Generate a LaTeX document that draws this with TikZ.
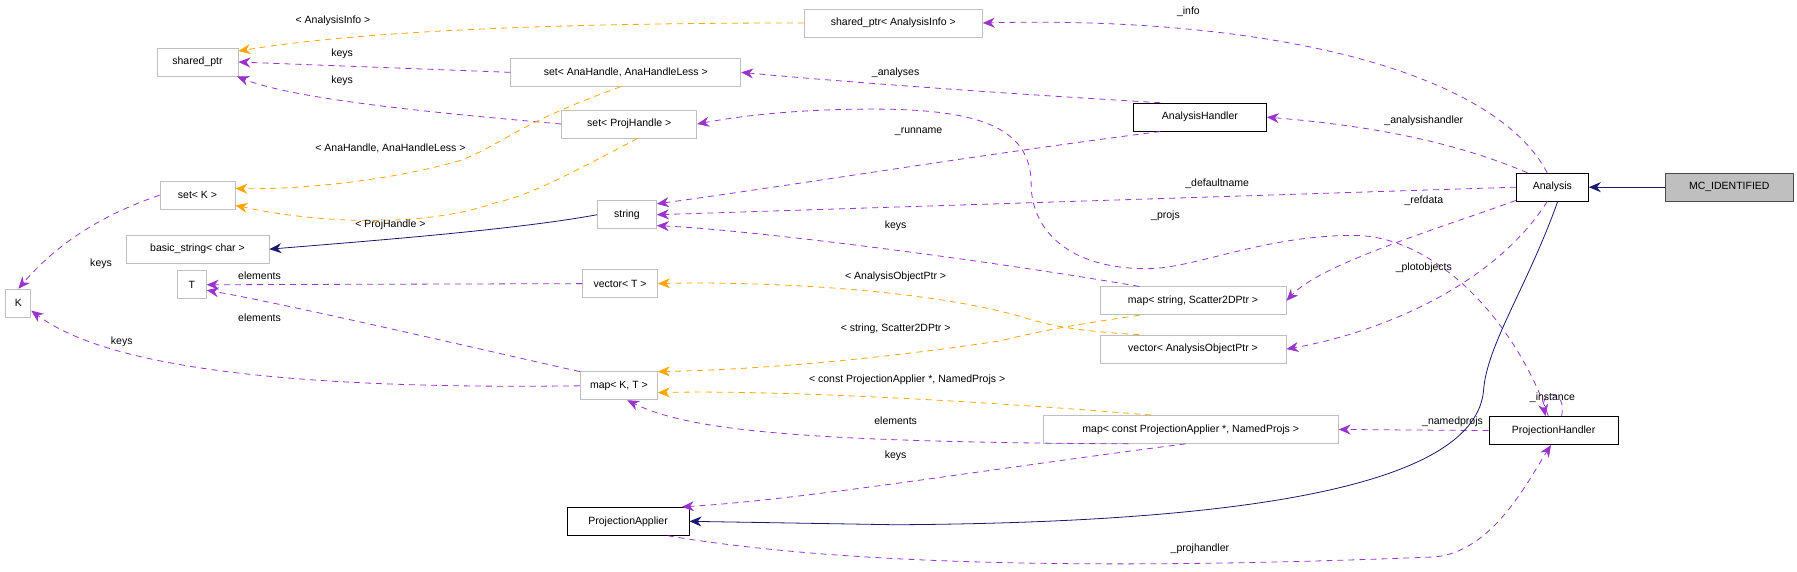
\documentclass[tikz,border=0pt]{standalone}
\usepackage{fontspec}
\setmainfont{Liberation Sans}
\usetikzlibrary{arrows.meta}
\definecolor{refcol}{HTML}{9A32CD}
\definecolor{tplcol}{HTML}{FFA500}
\definecolor{inhcol}{HTML}{191970}
\begin{document}
\begin{tikzpicture}[x=1.148pt,y=-1.148pt,>={Stealth[length=12pt,width=10pt]},font=\fontsize{10.5}{12}\selectfont]
  \tikzstyle{cls}=[rectangle,draw=black!25,thick,fill=white,inner sep=0pt,minimum height=28pt]
  \tikzstyle{main cls}=[cls,draw=black]
  \tikzstyle{root cls}=[cls,draw=black!70,fill=black!25]
  \tikzstyle{ref}=[->,dash pattern=on 6pt off 5pt,refcol,thick]
  \tikzstyle{tpl}=[->,dash pattern=on 6pt off 5pt,tplcol,thick]
  \tikzstyle{inh}=[->,inhcol,thick]
  \tikzstyle{lbl}=[inner sep=1pt]
  \useasboundingbox (0,0) rectangle (1565,498);
  % classes
  \node [cls,minimum width=81pt] (shptr) at (172,54) {shared\_ptr};
  \node [cls,minimum width=178pt] (aiptr) at (778,20) {shared\_ptr< AnalysisInfo >};
  \node [cls,minimum width=230pt] (sana) at (545,63) {set< AnaHandle, AnaHandleLess >};
  \node [cls,minimum width=135pt] (sprj) at (548,108) {set< ProjHandle >};
  \node [main cls,minimum width=133pt] (ahdl) at (1045,102) {AnalysisHandler};
  \node [main cls,minimum width=72pt] (ana) at (1352,163) {Analysis};
  \node [root cls,minimum width=128pt] (mcid) at (1506,163) {MC\_IDENTIFIED};
  \node [cls,minimum width=75pt] (setk) at (172,170) {set< K >};
  \node [cls,minimum width=59pt] (str) at (546,187) {string};
  \node [cls,minimum width=143pt] (bstr) at (172,217) {basic\_string< char >};
  \node [cls,minimum width=25pt] (k) at (16,264) {K};
  \node [cls,minimum width=29pt] (t) at (167,248) {T};
  \node [cls,minimum width=75pt] (vt) at (540,247) {vector< T >};
  \node [cls,minimum width=186pt] (msc) at (1039,262) {map< string, Scatter2DPtr >};
  \node [cls,minimum width=186pt] (vaop) at (1039,304) {vector< AnalysisObjectPtr >};
  \node [cls,minimum width=77pt] (mkt) at (539,336) {map< K, T >};
  \node [cls,minimum width=295pt] (mpa) at (1037,374) {map< const ProjectionApplier *, NamedProjs >};
  \node [main cls,minimum width=129pt] (pjhdl) at (1353,375) {ProjectionHandler};
  \node [main cls,minimum width=122pt] (pa) at (547,454) {ProjectionApplier};
  % connectors
  \draw [tpl] (aiptr.west) .. controls (500,20) and (320,26) .. (shptr.15);
  \draw [ref] (sana.west) -- (shptr.east);
  \draw [ref] (sprj.west) .. controls (400,100) and (260,88) .. (shptr.-20);
  \draw [ref] (ana.110) .. controls (1300,60) and (1100,14) .. (aiptr.east);
  \draw [ref] (ahdl.160) .. controls (850,80) and (720,70) .. (sana.east);
  \draw [ref] (pjhdl.110) .. controls (1320,280) and (1250,205) .. (1179,205)
    .. controls (1100,205) and (1040,234) .. (999,234)
    .. controls (930,234) and (898,200) .. (898,160)
    .. controls (898,110) and (850,95) .. (760,95)
    .. controls (700,95) and (650,100) .. (sprj.east);
  \draw [tpl] (sana.250) .. controls (445,110) and (440,125) .. (400,140)
    .. controls (330,160) and (250,165) .. (setk.10);
  \draw [tpl] (sprj.300) .. controls (480,160) and (460,170) .. (430,177)
    .. controls (370,198) and (280,195) .. (setk.-15);
  \draw [ref] (setk.west) .. controls (110,180) and (60,200) .. (k.north);
  \draw [ref] (ahdl.200) .. controls (850,135) and (700,160) .. (str.20);
  \draw [ref] (ana.west) -- (str.east);
  \draw [ref] (msc.165) .. controls (850,225) and (650,200) .. (str.-20);
  \draw [inh] (str.west) .. controls (450,200) and (320,210) .. (bstr.east);
  \draw [ref] (vt.west) -- (t.east);
  \draw [ref] (mkt.160) .. controls (400,300) and (250,265) .. (t.-20);
  \draw [ref] (mkt.west) .. controls (200,340) and (80,310) .. (k.-30);
  \draw [tpl] (vaop.165) .. controls (930,288) and (910,282) .. (890,276)
    .. controls (800,250) and (650,245) .. (vt.east);
  \draw [tpl] (msc.195) .. controls (920,285) and (900,290) .. (870,297)
    .. controls (750,315) and (650,322) .. (mkt.20);
  \draw [tpl] (mpa.160) .. controls (800,345) and (650,340) .. (mkt.-10);
  \draw [ref] (mpa.193) .. controls (700,385) and (600,375) .. (mkt.-60);
  \draw [ref] (mpa.250) .. controls (850,410) and (700,435) .. (pa.15);
  \draw [ref] (pjhdl.west) -- (mpa.east);
  \draw [ref] ([xshift=8]pjhdl.north) .. controls +(5,-24) and +(-5,-24) .. ([xshift=-8]pjhdl.north);
  \draw [ref] (pa.-20) .. controls (750,495) and (1000,495) .. (1250,485)
    .. controls (1300,480) and (1330,420) .. (pjhdl.260);
  \draw [ref] (ana.150) .. controls (1270,125) and (1200,110) .. (ahdl.east);
  \draw [ref] (ana.200) .. controls (1250,200) and (1150,230) .. (msc.east);
  \draw [ref] (ana.250) .. controls (1300,250) and (1200,290) .. (vaop.east);
  \draw [inh] (ana.290) .. controls (1330,250) and (1295,300) .. (1292,340)
    .. controls (1285,420) and (1100,455) .. (780,457) -- (pa.east);
  \draw [inh] (mcid.west) -- (ana.east);
  % labels
  \node [lbl] (l1) at (290,18) {< AnalysisInfo >};
  \node [lbl] (l2) at (298,47) {keys};
  \node [lbl] (l3) at (298,70) {keys};
  \node [lbl] (l4) at (1035,10) {\_info};
  \node [lbl] (l5) at (780,63) {\_analyses};
  \node [lbl] (l6) at (1015,188) {\_projs};
  \node [lbl] (l7) at (340,129) {< AnaHandle, AnaHandleLess >};
  \node [lbl] (l8) at (340,196) {< ProjHandle >};
  \node [lbl] (l9) at (88,230) {keys};
  \node [lbl] (l10) at (800,115) {\_runname};
  \node [lbl] (l11) at (1060,160) {\_defaultname};
  \node [lbl] (l12) at (780,197) {keys};
  \node [lbl] (l13) at (226,240) {elements};
  \node [lbl] (l14) at (226,277) {elements};
  \node [lbl] (l15) at (106,298) {keys};
  \node [lbl] (l16) at (780,241) {< AnalysisObjectPtr >};
  \node [lbl] (l17) at (1240,175) {\_refdata};
  \node [lbl] (l18) at (1240,233) {\_plotobjects};
  \node [lbl] (l19) at (780,286) {< string, Scatter2DPtr >};
  \node [lbl] (l20) at (790,331) {< const ProjectionApplier *, NamedProjs >};
  \node [lbl] (l21) at (780,366) {elements};
  \node [lbl] (l22) at (780,397) {keys};
  \node [lbl] (l23) at (1265,367) {\_namedprojs};
  \node [lbl] (l24) at (1352,346) {\_instance};
  \node [lbl] (l25) at (1045,478) {\_projhandler};
  \node [lbl] (l26) at (1240,105) {\_analysishandler};
\end{tikzpicture}
\end{document}
